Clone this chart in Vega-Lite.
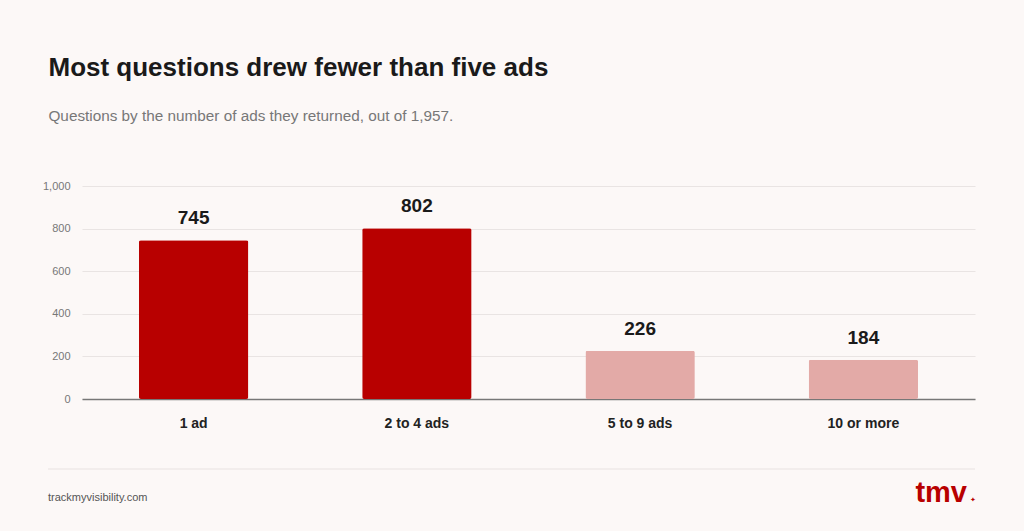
{
  "$schema": "https://vega.github.io/schema/vega-lite/v6.json",
  "description": "Questions by the number of ads they returned",
  "background": "#fcf8f7",
  "padding": {"left": 42, "top": 54, "right": 49, "bottom": 24},
  "config": {
    "view": {"stroke": null},
    "font": "Liberation Sans"
  },
  "title": {
    "text": "Most questions drew fewer than five ads",
    "subtitle": "Questions by the number of ads they returned, out of 1,957.",
    "anchor": "start",
    "dx": 6,
    "fontSize": 26,
    "fontWeight": "bold",
    "color": "#1a1a1a",
    "subtitleFontSize": 15.3,
    "subtitleColor": "#777777",
    "subtitlePadding": 28,
    "offset": 56
  },
  "spacing": 38,
  "vconcat": [
    {
      "width": 893,
      "height": 213,
      "data": {
        "values": [
          {"bucket": "1 ad", "questions": 745, "group": "fewer than five"},
          {"bucket": "2 to 4 ads", "questions": 802, "group": "fewer than five"},
          {"bucket": "5 to 9 ads", "questions": 226, "group": "five or more"},
          {"bucket": "10 or more", "questions": 184, "group": "five or more"}
        ]
      },
      "encoding": {
        "x": {
          "field": "bucket",
          "type": "nominal",
          "sort": null,
          "scale": {"paddingInner": 0.51, "paddingOuter": 0.255},
          "axis": {
            "title": null,
            "labelAngle": 0,
            "labelFontSize": 14,
            "labelFontWeight": "bold",
            "labelColor": "#222222",
            "labelPadding": 17,
            "ticks": false,
            "domainColor": "#777777",
            "domainWidth": 1.5
          }
        },
        "y": {
          "field": "questions",
          "type": "quantitative",
          "scale": {"domain": [0, 1000]},
          "axis": {
            "title": null,
            "values": [0, 200, 400, 600, 800, 1000],
            "format": ",.0f",
            "domain": false,
            "ticks": false,
            "labelPadding": 12,
            "labelFontSize": 11,
            "labelColor": "#777777",
            "gridColor": "#e9e4e3",
            "gridWidth": 1
          }
        }
      },
      "layer": [
        {
          "mark": {"type": "bar", "cornerRadius": 2},
          "encoding": {
            "color": {
              "field": "group",
              "type": "nominal",
              "scale": {"domain": ["fewer than five", "five or more"], "range": ["#b80000", "#e3aaa7"]},
              "legend": null
            }
          }
        },
        {
          "mark": {"type": "text", "baseline": "alphabetic", "dy": -16, "fontSize": 19, "fontWeight": "bold", "color": "#1a1a1a"},
          "encoding": {
            "text": {"field": "questions", "type": "quantitative"}
          }
        }
      ]
    },
    {
      "width": 893,
      "height": 40,
      "encoding": {
        "x": {"field": "x", "type": "quantitative", "scale": {"domain": [0, 893]}, "axis": null},
        "y": {"field": "y", "type": "quantitative", "scale": {"domain": [0, 1]}, "axis": null}
      },
      "layer": [
        {
          "data": {"values": [{"x": -34, "x2": 893, "y": 1}]},
          "mark": {"type": "rule", "color": "#e8e2e1", "strokeWidth": 1},
          "encoding": {"x2": {"field": "x2"}}
        },
        {
          "data": {"values": [{"x": -34, "y": 0.27, "label": "trackmyvisibility.com"}]},
          "mark": {"type": "text", "align": "left", "baseline": "middle", "fontSize": 11, "color": "#555555"},
          "encoding": {"text": {"field": "label"}}
        },
        {
          "data": {"values": [{"x": 885, "y": 0.17, "label": "tmv"}]},
          "mark": {"type": "text", "align": "right", "baseline": "alphabetic", "fontSize": 29, "fontWeight": "bold", "color": "#b80000"},
          "encoding": {"text": {"field": "label"}}
        },
        {
          "data": {"values": [{"x": 891, "y": 0.22, "label": "✦"}]},
          "mark": {"type": "text", "align": "center", "baseline": "middle", "fontSize": 7, "font": "DejaVu Sans", "color": "#b80000"},
          "encoding": {"text": {"field": "label"}}
        }
      ]
    }
  ]
}
